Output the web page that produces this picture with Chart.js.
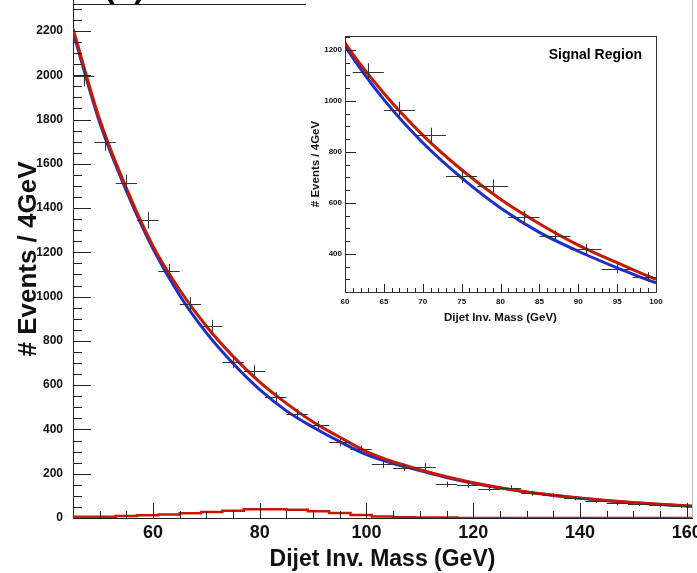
<!DOCTYPE html>
<html>
<head>
<meta charset="utf-8">
<script src="https://cdn.jsdelivr.net/npm/chart.js@4.4.1/dist/chart.umd.min.js"></script>
<style>
  html, body { margin: 0; padding: 0; background: #fff; }
  #wrap { position: relative; width: 697px; height: 573px; overflow: hidden; }
  #main { position: absolute; left: 0; top: 0; }
  #inset { position: absolute; left: 300px; top: 26px; }
</style>
</head>
<body>
<div id="wrap">
  <canvas id="main" width="697" height="573"></canvas>
  <canvas id="inset" width="372" height="306"></canvas>
</div>
<script>
// data, 4 GeV bins
const binCenters = [47, 51, 55, 59, 63, 67, 71, 75, 79, 83, 87, 91, 95, 99, 103, 107, 111, 115, 119, 123, 127, 131, 135, 139, 143, 147, 151, 155, 159];
const counts = [1995, 1700, 1512, 1345, 1115, 966, 866, 705, 666, 546, 470, 418, 342, 310, 242, 228, 232, 152, 147, 132, 136, 112, 102, 89, 77, 66, 62, 57, 53];
const countErr = [45, 41, 39, 37, 33, 31, 29, 27, 26, 23, 22, 20, 18, 18, 16, 15, 15, 12, 12, 11, 12, 11, 10, 9, 9, 8, 8, 8, 7];
const binHalfWidth = 2;

// fitted curves (sig+bkg in red, bkg only in blue)
const fitMass = [45, 50, 55, 60, 65, 70, 75, 80, 85, 90, 95, 100, 105, 110, 115, 120, 125, 130, 135, 140, 145, 150, 155, 160, 161];
const totalFit = [2210, 1800, 1490, 1228, 1030, 866, 730, 614, 518, 434, 365, 300, 254, 218, 186, 159, 137, 118, 103, 90, 79, 70, 62, 55, 54];
const bkgFit = [2196, 1786, 1478, 1216, 1005, 836, 698, 580, 484, 410, 345, 286, 246, 214, 183, 157, 136, 117, 102, 89, 78, 69, 61, 54, 53];

// signal component, stepped by bin low edge
const sigEdges = [45, 49, 53, 57, 61, 65, 69, 73, 77, 81, 85, 89, 93, 97, 101, 105, 109, 113, 117, 121, 125, 129, 133, 137, 141, 145, 149, 153, 157, 161];
const sigValues = [6, 6, 9, 12, 16, 21, 27, 33, 39, 40, 37, 31, 23, 14, 7, 3, 2, 2, 0, 0, 0, 0, 0, 0, 0, 0, 0, 0, 0, 0];

const mainXTicks = [60, 80, 100, 120, 140, 160];
const mainYTicks = [0, 200, 400, 600, 800, 1000, 1200, 1400, 1600, 1800, 2000, 2200];
const insetXTicks = [60, 65, 70, 75, 80, 85, 90, 95, 100];
const insetYTicks = [400, 600, 800, 1000, 1200];

const FONT = "'Liberation Sans', Arial, Helvetica, sans-serif";
const RED = '#c81800';
const BLUE = '#1a30c8';

const pts = (xs, ys) => xs.map((v, i) => ({x: v, y: ys[i]}));
const plain = v => String(v);

function makeDatasets(lw) {
  return [
    {type: 'scatter', data: pts(binCenters, counts), errY: countErr, pointRadius: 0, showLine: false},
    {type: 'line', data: pts(fitMass, totalFit), borderColor: RED, borderWidth: lw, pointRadius: 0, cubicInterpolationMode: 'monotone'},
    {type: 'line', data: pts(fitMass, bkgFit), borderColor: BLUE, borderWidth: lw, pointRadius: 0, cubicInterpolationMode: 'monotone'},
    {type: 'line', data: pts(sigEdges, sigValues), borderColor: RED, borderWidth: 2.5, pointRadius: 0, stepped: true}
  ];
}

// crosses drawn from the scatter dataset
const errorBars = {
  id: 'errorBars',
  afterDatasetsDraw(chart) {
    const {ctx, chartArea: a, scales: {x, y}} = chart;
    ctx.save();
    ctx.beginPath();
    ctx.rect(a.left, a.top, a.right - a.left, a.bottom - a.top);
    ctx.clip();
    ctx.strokeStyle = '#333';
    ctx.lineWidth = 1;
    chart.data.datasets.forEach(ds => {
      if (!ds.errY) return;
      ds.data.forEach((p, i) => {
        const px = Math.round(x.getPixelForValue(p.x)) + 0.5;
        const py = Math.round(y.getPixelForValue(p.y)) + 0.5;
        ctx.beginPath();
        ctx.moveTo(x.getPixelForValue(p.x - binHalfWidth), py);
        ctx.lineTo(x.getPixelForValue(p.x + binHalfWidth), py);
        ctx.moveTo(px, y.getPixelForValue(p.y + ds.errY[i]));
        ctx.lineTo(px, y.getPixelForValue(p.y - ds.errY[i]));
        ctx.stroke();
      });
    });
    ctx.restore();
  }
};

// ROOT style ticks pointing into the frame
const rootTicks = {
  id: 'rootTicks',
  afterDraw(chart, args, o) {
    const {ctx, chartArea: a, scales: {x, y}} = chart;
    ctx.save();
    ctx.strokeStyle = '#222';
    ctx.lineWidth = 1;
    const line = (x1, y1, x2, y2) => { ctx.beginPath(); ctx.moveTo(x1, y1); ctx.lineTo(x2, y2); ctx.stroke(); };
    for (let v = o.yStart; v <= y.max + 1e-6; v += o.yMinor) {
      const p = Math.round(y.getPixelForValue(v)) + 0.5;
      const major = Math.abs(v % o.yMajor) < 1e-6;
      line(a.left, p, a.left + (major ? o.yMajorLen : o.yMinorLen), p);
    }
    for (let v = o.xStart; v <= x.max + 1e-6; v += o.xMinor) {
      const p = Math.round(x.getPixelForValue(v)) + 0.5;
      const major = Math.abs(v % o.xMajor) < 1e-6;
      line(p, a.bottom, p, a.bottom - (major ? o.xMajorLen : o.xMinorLen));
    }
    if (o.box) {
      ctx.strokeStyle = '#333';
      ctx.strokeRect(Math.round(a.left) + 0.5, Math.round(a.top) + 0.5, Math.round(a.right - a.left), Math.round(a.bottom - a.top));
    } else {
      ctx.strokeStyle = '#bbb';
      line(Math.round(a.right) + 0.5, a.top, Math.round(a.right) + 0.5, a.bottom);
    }
    ctx.restore();
  }
};

// free text inside the pads
const padText = {
  id: 'padText',
  afterDraw(chart, args, o) {
    const ctx = chart.ctx;
    ctx.save();
    (o.items || []).forEach(t => {
      ctx.font = t.font;
      ctx.fillStyle = '#000';
      ctx.textAlign = t.align || 'left';
      ctx.textBaseline = t.baseline || 'middle';
      ctx.fillText(t.text, t.x, t.y);
    });
    (o.lines || []).forEach(l => {
      ctx.strokeStyle = '#222';
      ctx.lineWidth = 1;
      ctx.beginPath(); ctx.moveTo(l[0], l[1]); ctx.lineTo(l[2], l[3]); ctx.stroke();
    });
    ctx.restore();
  }
};

function fixScale(w, h) {
  return s => {
    if (w != null) s.width = w;
    if (h != null) s.height = h;
    s.paddingLeft = 0; s.paddingRight = 0; s.paddingTop = 0; s.paddingBottom = 0;
  };
}

new Chart(document.getElementById('main'), {
  data: {datasets: makeDatasets(3)},
  options: {
    responsive: false,
    animation: false,
    events: [],
    layout: {padding: {left: 0, right: 5, top: 0, bottom: 0}},
    plugins: {
      legend: {display: false},
      tooltip: {enabled: false},
      rootTicks: {yStart: 0, yMinor: 50, yMajor: 200, yMajorLen: 18, yMinorLen: 9,
                  xStart: 50, xMinor: 5, xMajor: 20, xMajorLen: 15, xMinorLen: 7, box: false},
      padText: {
        items: [{text: '(b)', x: 104, y: -3, font: 'bold 32px ' + FONT, baseline: 'alphabetic'}],
        lines: [[73, 4.5, 306, 4.5]]
      }
    },
    scales: {
      x: {
        type: 'linear', min: 45, max: 161,
        afterBuildTicks: s => { s.ticks = mainXTicks.map(v => ({value: v})); },
        afterFit: fixScale(null, 55),
        grid: {display: false, drawTicks: false},
        border: {display: true, color: '#222', width: 1},
        ticks: {padding: 4, color: '#111', callback: plain, font: {family: FONT, size: 18, weight: 'bold'}, autoSkip: false, maxRotation: 0},
        title: {display: true, text: 'Dijet Inv. Mass (GeV)', color: '#111',
                font: {family: FONT, size: 23, weight: 'bold'}, padding: {top: 0, bottom: 0}}
      },
      y: {
        type: 'linear', min: 0, max: 2340,
        afterBuildTicks: s => { s.ticks = mainYTicks.map(v => ({value: v})); },
        afterFit: fixScale(73, null),
        grid: {display: false, drawTicks: false},
        border: {display: true, color: '#222', width: 1},
        ticks: {padding: 10, color: '#111', callback: plain, font: {family: FONT, size: 12, weight: 'bold'}, autoSkip: false},
        title: {display: true, text: '# Events / 4GeV', color: '#111',
                font: {family: FONT, size: 26, weight: 'bold'}, padding: {top: 13, bottom: 0}}
      }
    }
  },
  plugins: [errorBars, rootTicks, padText]
});

new Chart(document.getElementById('inset'), {
  data: {datasets: makeDatasets(3)},
  options: {
    responsive: false,
    animation: false,
    events: [],
    layout: {padding: {left: 0, right: 16, top: 10, bottom: 0}},
    plugins: {
      legend: {display: false},
      tooltip: {enabled: false},
      rootTicks: {yStart: 250, yMinor: 50, yMajor: 200, yMajorLen: 11, yMinorLen: 5,
                  xStart: 60, xMinor: 1, xMajor: 5, xMajorLen: 8, xMinorLen: 4, box: true},
      padText: {
        items: [{text: 'Signal Region', x: 342, y: 29, font: 'bold 14px ' + FONT, align: 'right'}]
      }
    },
    scales: {
      x: {
        type: 'linear', min: 60, max: 100,
        afterBuildTicks: s => { s.ticks = insetXTicks.map(v => ({value: v})); },
        afterFit: fixScale(null, 40),
        grid: {display: false, drawTicks: false},
        border: {display: true, color: '#222', width: 1},
        ticks: {padding: 5, color: '#111', callback: plain, font: {family: FONT, size: 8, weight: 'bold'}, autoSkip: false, maxRotation: 0},
        title: {display: true, text: 'Dijet Inv. Mass (GeV)', color: '#111',
                font: {family: FONT, size: 11.5, weight: 'bold'}, padding: {top: 0, bottom: 7}}
      },
      y: {
        type: 'linear', min: 250, max: 1255,
        afterBuildTicks: s => { s.ticks = insetYTicks.map(v => ({value: v})); },
        afterFit: fixScale(45, null),
        grid: {display: false, drawTicks: false},
        border: {display: true, color: '#222', width: 1},
        ticks: {padding: 3, color: '#111', callback: plain, font: {family: FONT, size: 8, weight: 'bold'}, autoSkip: false},
        title: {display: true, text: '# Events / 4GeV', color: '#111',
                font: {family: FONT, size: 11.5, weight: 'bold'}, padding: {top: 9, bottom: 0}}
      }
    }
  },
  plugins: [errorBars, rootTicks, padText]
});
</script>
</body>
</html>
